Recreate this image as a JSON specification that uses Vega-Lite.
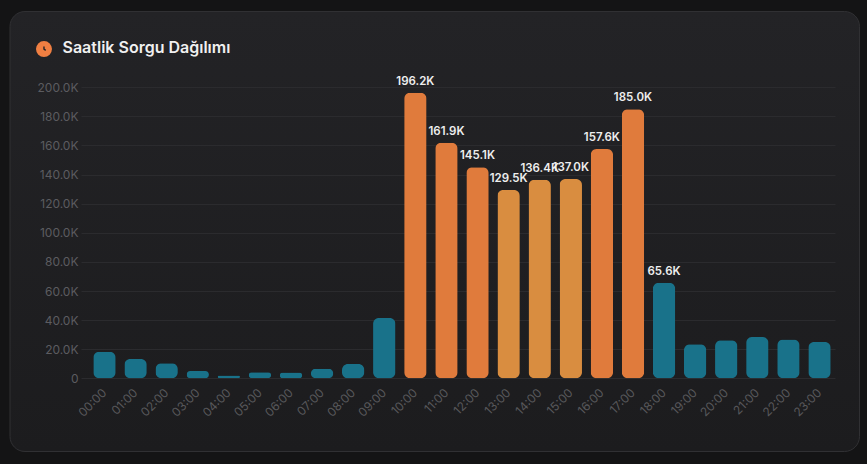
{
  "$schema": "https://vega.github.io/schema/vega-lite/v6.json",
  "width": 849.5,
  "height": 440,
  "autosize": "none",
  "padding": {"left": 9.5, "top": 11, "right": 8, "bottom": 13},
  "background": "#141415",
  "view": {
    "fill": {"gradient": "linear", "x1": 0, "y1": 0, "x2": 0, "y2": 1, "stops": [{"offset": 0, "color": "#232326"}, {"offset": 1, "color": "#1c1c1e"}]},
    "stroke": "#303033",
    "cornerRadius": 15
  },
  "title": {
    "text": "Saatlik Sorgu Dağılımı",
    "anchor": "start",
    "frame": "group",
    "font": "Inter",
    "fontSize": 16,
    "fontWeight": 600,
    "color": "#f0f0f0",
    "baseline": "middle",
    "dx": 53,
    "offset": -53
  },
  "data": {
    "values": [
      {"hour": "00:00", "queries": 18300, "label": "18.3K"},
      {"hour": "01:00", "queries": 13300, "label": "13.3K"},
      {"hour": "02:00", "queries": 10300, "label": "10.3K"},
      {"hour": "03:00", "queries": 5000, "label": "5.0K"},
      {"hour": "04:00", "queries": 2000, "label": "2.0K"},
      {"hour": "05:00", "queries": 4100, "label": "4.1K"},
      {"hour": "06:00", "queries": 4000, "label": "4.0K"},
      {"hour": "07:00", "queries": 6500, "label": "6.5K"},
      {"hour": "08:00", "queries": 9800, "label": "9.8K"},
      {"hour": "09:00", "queries": 41500, "label": "41.5K"},
      {"hour": "10:00", "queries": 196200, "label": "196.2K"},
      {"hour": "11:00", "queries": 161900, "label": "161.9K"},
      {"hour": "12:00", "queries": 145100, "label": "145.1K"},
      {"hour": "13:00", "queries": 129500, "label": "129.5K"},
      {"hour": "14:00", "queries": 136400, "label": "136.4K"},
      {"hour": "15:00", "queries": 137000, "label": "137.0K"},
      {"hour": "16:00", "queries": 157600, "label": "157.6K"},
      {"hour": "17:00", "queries": 185000, "label": "185.0K"},
      {"hour": "18:00", "queries": 65600, "label": "65.6K"},
      {"hour": "19:00", "queries": 23400, "label": "23.4K"},
      {"hour": "20:00", "queries": 26100, "label": "26.1K"},
      {"hour": "21:00", "queries": 28400, "label": "28.4K"},
      {"hour": "22:00", "queries": 26600, "label": "26.6K"},
      {"hour": "23:00", "queries": 25000, "label": "25.0K"}
    ]
  },
  "layer": [
    {
      "mark": {"type": "bar", "cornerRadius": 6, "strokeWidth": 1},
      "encoding": {
        "x": {
          "field": "hour",
          "type": "ordinal",
          "scale": {"range": [71.5, 825.5], "paddingInner": 0.28, "paddingOuter": 0.267, "align": 0.74},
          "axis": {
            "title": null,
            "offset": -72.7,
            "labelAngle": -45,
            "labelAlign": "right",
            "labelBaseline": "middle",
            "labelPadding": 12,
            "labelFont": "Inter",
            "labelFontSize": 12,
            "labelColor": "#58585b",
            "labelOverlap": false,
            "ticks": false,
            "domain": false,
            "grid": false
          }
        },
        "y": {
          "field": "queries",
          "type": "quantitative",
          "scale": {"domain": [0, 200000], "range": [367.3, 76.3], "nice": false},
          "axis": {
            "title": null,
            "offset": -71.5,
            "values": [0, 20000, 40000, 60000, 80000, 100000, 120000, 140000, 160000, 180000, 200000],
            "labelExpr": "datum.value == 0 ? '0' : format(datum.value / 1000, '.1f') + 'K'",
            "labelFont": "Inter",
            "labelFontSize": 12,
            "labelColor": "#5c5c60",
            "labelPadding": 3,
            "ticks": false,
            "domain": false,
            "grid": true,
            "gridColor": "#2b2b2e",
            "gridWidth": 1
          }
        },
        "color": {
          "condition": [
            {"test": "datum.queries >= 140000", "value": "#e07b3c"},
            {"test": "datum.queries >= 100000", "value": "#d98d40"}
          ],
          "value": "#19728a"
        }
      }
    },
    {
      "transform": [{"filter": "datum.queries >= 50000"}],
      "mark": {"type": "text", "baseline": "bottom", "dy": -6, "font": "Inter", "fontSize": 11.5, "fontWeight": 600, "color": "#eeeeee"},
      "encoding": {
        "x": {"field": "hour", "type": "ordinal"},
        "y": {"field": "queries", "type": "quantitative"},
        "text": {"field": "label", "type": "nominal"}
      }
    },
    {
      "data": {"values": [{"icon": "clock"}]},
      "mark": {"type": "point", "filled": true, "size": 256, "shape": "circle", "color": "#f07f42", "opacity": 1, "xOffset": -60.5},
      "encoding": {
        "x": {"datum": "00:00", "type": "ordinal"},
        "y": {"datum": 226300, "type": "quantitative"}
      }
    },
    {
      "data": {"values": [{"icon": "clock"}]},
      "mark": {"type": "point", "filled": false, "size": 100, "shape": "M0,-0.5 L0,0.03 L0.35,0.25", "stroke": "#232326", "strokeWidth": 1.4, "opacity": 1, "xOffset": -60.5},
      "encoding": {
        "x": {"datum": "00:00", "type": "ordinal"},
        "y": {"datum": 226300, "type": "quantitative"}
      }
    }
  ]
}
